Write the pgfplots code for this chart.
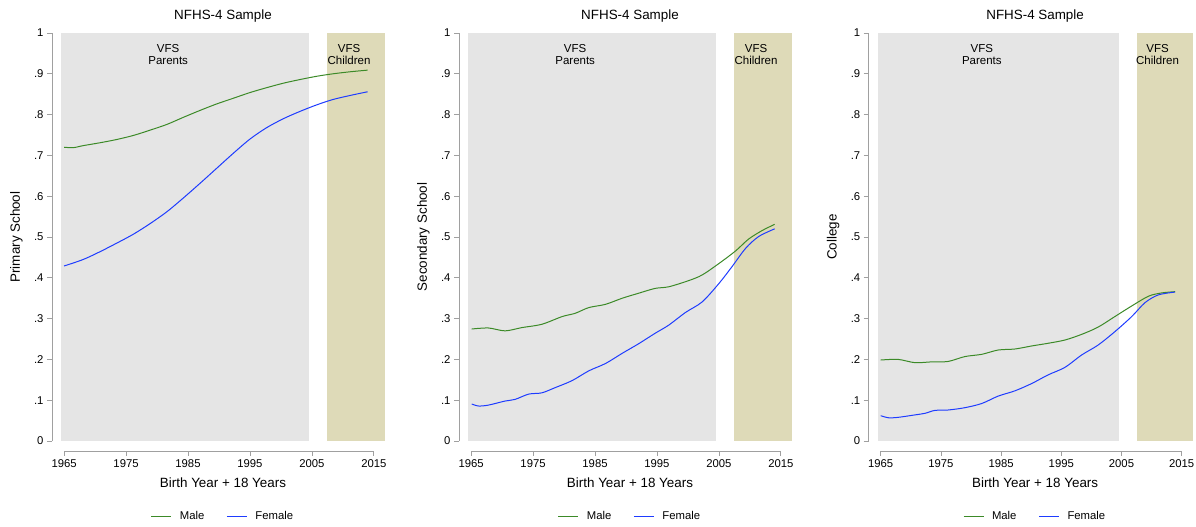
\documentclass[border=0pt]{standalone}
\usepackage{fontspec}
\setmainfont{Liberation Sans}
\usepackage{pgfplots}
\pgfplotsset{compat=1.18}
\definecolor{mgreen}{RGB}{60,138,40}
\definecolor{fblue}{RGB}{30,60,255}
\definecolor{shgrey}{RGB}{229,229,229}
\definecolor{shtan}{RGB}{222,218,184}
\definecolor{axgrey}{RGB}{160,160,160}
\newcommand{\tickfont}{\fontsize{11.3bp}{13bp}\selectfont}
\newcommand{\labfont}{\fontsize{13.4bp}{16bp}\selectfont}
\newcommand{\txtfont}{\fontsize{11.5bp}{13bp}\selectfont}
\pgfplotsset{
  vfs/.style={
    scale only axis, height=408bp,
    xmin=1964.5, xmax=2016.8, ymin=0, ymax=1,
    axis x line=bottom, axis y line=left,
    axis x line shift=10bp, axis y line shift=9bp,
    axis line style={-, draw=axgrey, line width=0.8bp},
    x axis line style={draw=none},
    tick align=outside, major tick length=5bp,
    every tick/.style={axgrey, line width=0.8bp},
    xtick={1965,1975,1985,1995,2005,2015},
    xticklabels={1965,1975,1985,1995,2005,2015},
    ytick={0,0.1,0.2,0.3,0.4,0.5,0.6,0.7,0.8,0.9,1},
    yticklabels={0,.1,.2,.3,.4,.5,.6,.7,.8,.9,1},
    tick label style={font=\tickfont, text=black},
    clip=false,
    title={NFHS-4 Sample},
    every axis title/.style={at={(rel axis cs:0.5,1)}, anchor=base, yshift=14bp, font=\labfont},
    xlabel={Birth Year + 18 Years},
    every axis x label/.style={at={(rel axis cs:0.5,0)}, anchor=center, yshift=-42bp, font=\labfont},
    every axis y label/.style={at={(rel axis cs:0,0.5)}, anchor=center, xshift=-44.5bp, rotate=90, font=\labfont},
    legend style={at={(0.5,0)}, anchor=center, yshift=-75bp, draw=none, fill=none,
      legend columns=2, font=\tickfont, /tikz/every even column/.append style={column sep=20bp}},
    legend image code/.code={\draw[#1] (0bp,0bp) -- (20bp,0bp); \path (26bp,0bp);},
  },
  male/.style={mgreen, line width=1bp, smooth, tension=0.5},
  female/.style={fblue, line width=1bp, smooth, tension=0.5},
}
\newcommand{\shades}{%
  \addplot[fill=shgrey, draw=none, forget plot] coordinates {(1964.5,1) (2004.6,1)} \closedcycle;
  \addplot[fill=shtan, draw=none, forget plot] coordinates {(2007.5,1) (2016.8,1)} \closedcycle;
  \node[font=\txtfont, anchor=base] at (axis cs:1981.8,0.951) {VFS};
  \node[font=\txtfont, anchor=base] at (axis cs:1981.8,0.924) {Parents};
  \node[font=\txtfont, anchor=base] at (axis cs:2011,0.951) {VFS};
  \node[font=\txtfont, anchor=base] at (axis cs:2011,0.924) {Children};
  \draw[axgrey, line width=0.8bp] ([yshift=-10bp]axis cs:1965,0) -- ([yshift=-10bp]axis cs:2015,0);
}
\begin{document}
\begin{tikzpicture}
\path[use as bounding box] (0,0) rectangle (1196bp,-527bp);
% Panel 1
\begin{axis}[vfs, width=324bp, at={(61bp,-441bp)}, anchor=south west, ylabel={Primary School}]
\shades
\addplot[male] coordinates {(1965,0.720) (1966.5,0.719) (1968.1,0.724) (1970.8,0.731) (1973.5,0.739) (1976.2,0.749) (1978.9,0.762) (1981.6,0.776) (1984.2,0.793) (1986.9,0.810) (1989.6,0.826) (1992.3,0.840) (1995,0.854) (1997.7,0.866) (2000.4,0.877) (2003.1,0.886) (2005.8,0.894) (2008.4,0.900) (2011.2,0.905) (2014,0.909)};
\addlegendentry{Male}
\addplot[female] coordinates {(1965,0.429) (1968.1,0.445) (1970.8,0.464) (1973.5,0.485) (1976.2,0.507) (1978.9,0.533) (1981.6,0.562) (1984.2,0.595) (1986.9,0.631) (1989.6,0.668) (1992.3,0.705) (1995,0.740) (1997.7,0.768) (2000.4,0.790) (2003.1,0.808) (2005.8,0.824) (2008.4,0.837) (2011.2,0.847) (2014,0.856)};
\addlegendentry{Female}
\end{axis}
% Panel 2
\begin{axis}[vfs, width=324bp, at={(468bp,-441bp)}, anchor=south west, ylabel={Secondary School}]
\shades
\addplot[male] coordinates {(1965.1,0.2745) (1967.8,0.277) (1970.5,0.270) (1973.2,0.278) (1976.4,0.286) (1979.7,0.305) (1981.8,0.313) (1984.0,0.327) (1986.7,0.335) (1989.4,0.350) (1992.0,0.362) (1994.7,0.374) (1996.9,0.378) (2000.1,0.393) (2002.3,0.407) (2005.0,0.435) (2007.7,0.466) (2009.8,0.495) (2012.0,0.516) (2014.0,0.531)};
\addlegendentry{Male}
\addplot[female] coordinates {(1965.1,0.0907) (1966.2,0.0858) (1967.8,0.088) (1970.5,0.098) (1972.1,0.102) (1974.3,0.115) (1976.4,0.118) (1978.6,0.131) (1981.3,0.148) (1984.0,0.172) (1986.7,0.190) (1989.4,0.215) (1992.0,0.238) (1994.7,0.264) (1996.9,0.284) (1999.6,0.315) (2002.3,0.341) (2005.0,0.386) (2007.1,0.427) (2009.3,0.472) (2011.4,0.501) (2014.0,0.520)};
\addlegendentry{Female}
\end{axis}
% Panel 3
\begin{axis}[vfs, width=314.8bp, at={(877.7bp,-441bp)}, anchor=south west, ylabel={College}]
\shades
\addplot[male] coordinates {(1965.0,0.1985) (1967.9,0.200) (1970.7,0.192) (1973.5,0.194) (1976.2,0.195) (1979.0,0.207) (1981.8,0.2125) (1984.5,0.223) (1987.3,0.2255) (1990.1,0.233) (1992.8,0.2395) (1995.6,0.2475) (1998.4,0.2615) (2001.1,0.279) (2003.9,0.305) (2006.7,0.331) (2009.5,0.355) (2011.7,0.363) (2013.9,0.366)};
\addlegendentry{Male}
\addplot[female] coordinates {(1965.0,0.062) (1966.3,0.057) (1967.9,0.058) (1970.7,0.064) (1972.4,0.068) (1974.0,0.075) (1976.2,0.076) (1979.0,0.0817) (1981.8,0.092) (1984.5,0.110) (1987.3,0.123) (1990.1,0.141) (1992.8,0.162) (1995.6,0.1805) (1998.4,0.211) (2001.1,0.235) (2003.9,0.268) (2006.7,0.305) (2008.9,0.339) (2011.1,0.358) (2013.9,0.365)};
\addlegendentry{Female}
\end{axis}
\end{tikzpicture}
\end{document}
